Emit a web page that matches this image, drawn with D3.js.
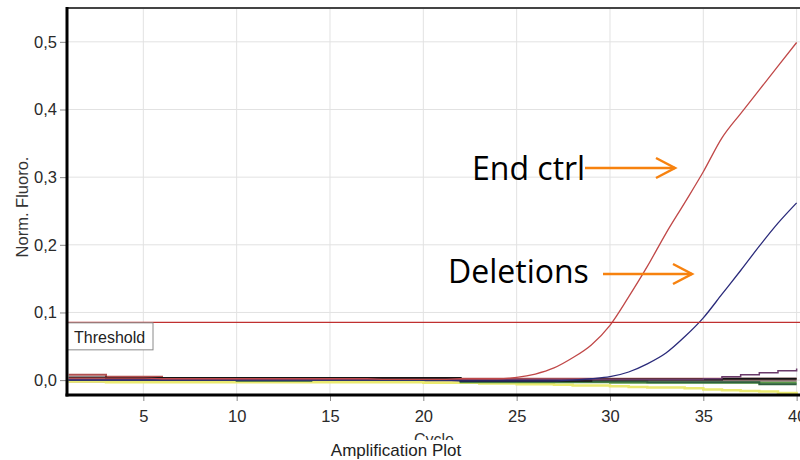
<!DOCTYPE html>
<html>
<head>
<meta charset="utf-8">
<script src="https://cdn.jsdelivr.net/npm/d3@7"></script>
<style>
html,body{margin:0;padding:0;background:#fff;}
svg{display:block;}
</style>
</head>
<body>
<svg id="chart" width="800" height="460"></svg>
<script>
// ---- data ----
const cycles = [1,2,3,4,5,6,7,8,9,10,11,12,13,14,15,16,17,18,19,20,21,22,23,24,25,26,27,28,29,30,31,32,33,34,35,36,37,38,39,40];
const endCtrl = [0.003,0.003,0.003,0.003,0.003,0.002,0.002,0.002,0.002,0.002,0.002,0.002,0.002,0.002,0.002,0.002,0.002,0.001,0.001,0.001,0.001,0.002,0.002,0.002,0.004,0.009,0.018,0.033,0.052,0.081,0.123,0.168,0.217,0.262,0.308,0.358,0.394,0.429,0.464,0.499];
const deletions = [0.000,0.000,0.000,0.000,0.000,0.000,0.000,0.000,0.000,0.000,0.000,0.000,0.000,0.000,0.000,0.000,0.000,0.000,0.000,0.000,0.000,-0.001,-0.001,-0.001,-0.001,-0.001,-0.001,0.000,0.002,0.005,0.012,0.024,0.040,0.064,0.092,0.127,0.162,0.198,0.232,0.262];
const purple = [0.001,0.001,0.001,0.001,0.001,0.001,0.001,0.001,0.001,0.001,0.001,0.001,0.001,0.001,0.001,0.001,0.001,0.001,0.001,0.001,0.001,0.001,0.001,0.001,0.001,0.001,0.001,0.001,0.001,0.001,0.001,0.001,0.001,0.001,0.002,0.005,0.008,0.011,0.014,0.017];
const blackLine = [0.004,0.004,0.003,0.003,0.003,0.003,0.003,0.003,0.003,0.003,0.003,0.003,0.003,0.003,0.003,0.003,0.003,0.003,0.003,0.003,0.003,-0.001,-0.001,-0.001,-0.001,-0.001,-0.001,-0.001,0.001,0.001,0.001,0.001,0.001,0.001,0.001,0.002,0.002,0.002,0.002,0.002];
const darkGreen = [0.000,0.000,0.000,0.000,0.000,0.000,0.000,0.000,0.000,-0.001,-0.001,-0.001,-0.001,0.001,0.001,0.001,0.001,0.001,0.001,0.000,0.000,-0.002,-0.002,-0.002,-0.002,-0.002,-0.002,-0.002,-0.002,-0.002,-0.002,-0.003,-0.003,-0.003,-0.003,-0.003,-0.003,-0.006,-0.006,-0.006];
const greenLine = [0.000,0.000,0.000,0.000,0.000,0.000,0.000,0.000,0.000,0.000,0.000,0.000,0.002,0.002,0.000,0.000,0.000,0.000,0.000,0.000,0.000,-0.003,-0.003,-0.003,-0.003,-0.003,-0.003,-0.003,-0.003,-0.004,-0.004,-0.004,-0.004,-0.004,-0.004,-0.004,-0.004,-0.004,-0.004,-0.004];
const yellowLine = [-0.002,-0.002,-0.003,-0.003,-0.003,-0.003,-0.003,-0.003,-0.003,-0.003,-0.003,-0.003,-0.003,-0.003,-0.003,-0.003,-0.003,-0.003,-0.003,-0.004,-0.004,-0.004,-0.005,-0.005,-0.006,-0.006,-0.007,-0.008,-0.008,-0.009,-0.010,-0.011,-0.011,-0.012,-0.014,-0.015,-0.016,-0.017,-0.019,-0.021];
const pinkLine = [0.008,0.008,0.005,0.005,0.005,0.002,0.002,0.002,0.002,0.002,0.002,0.002,0.002,0.002,0.002,0.002,0.002,0.002,0.002,0.002,0.002,0.002,0.002,0.002,0.002,0.002,0.002,0.002,0.002,0.002,0.002,0.002,0.002,0.002,0.002,0.002,0.002,0.002,0.002,0.002];
const grayLine = [-0.002,-0.002,-0.002,-0.001,-0.001,-0.001,-0.001,-0.001,-0.001,-0.001,-0.001,-0.001,-0.001,-0.001,-0.001,-0.001,-0.001,-0.001,-0.001,-0.001,-0.001,-0.001,-0.001,-0.001,-0.001,-0.001,-0.001,-0.001,-0.001,-0.001,-0.001,-0.001,-0.001,-0.001,-0.001,-0.001,-0.001,-0.001,-0.001,-0.001];
const thresholdValue = 0.0854;
const xTickValues = [5,10,15,20,25,30,35,40];
const yTickValues = [0,0.1,0.2,0.3,0.4,0.5];
const xDomain = [0.91, 40.18];
const yDomain = [-0.022, 0.55];
const annotations = [
  {label:"End ctrl", x:472, y:180, ax1:585, ax2:675, ay:168},
  {label:"Deletions", x:448, y:283, ax1:603, ax2:692, ay:274}
];

// ---- layout ----
const svg = d3.select("#chart");
const L = 67, R = 800, T = 8, B = 395;
const x = d3.scaleLinear().domain(xDomain).range([L, R]);
const y = d3.scaleLinear().domain(yDomain).range([B, T]);
const fmt = v => d3.format(".1f")(v).replace(".", ",");
const sans = "'Liberation Sans', Arial, sans-serif";

svg.append("defs").append("clipPath").attr("id","plotclip")
  .append("rect").attr("x",L).attr("y",T).attr("width",R-L).attr("height",B-T);
svg.select("defs").append("clipPath").attr("id","cycleclip")
  .append("rect").attr("x",0).attr("y",0).attr("width",800).attr("height",440);

// grid
const grid = svg.append("g");
grid.selectAll("line.v").data(xTickValues).join("line")
  .attr("x1",d=>x(d)).attr("x2",d=>x(d)).attr("y1",T).attr("y2",B)
  .attr("stroke","#e2e2e2").attr("stroke-width",1);
grid.selectAll("line.h").data(yTickValues).join("line")
  .attr("class","h")
  .attr("x1",L).attr("x2",R).attr("y1",d=>y(d)).attr("y2",d=>y(d))
  .attr("stroke","#e2e2e2").attr("stroke-width",1);

// axes
const yAxis = d3.axisLeft(y).tickValues(yTickValues).tickFormat(fmt).tickSize(6).tickPadding(3);
const gy = svg.append("g").attr("transform",`translate(${L-1},0)`).call(yAxis);
gy.select(".domain").remove();
gy.selectAll(".tick line").attr("stroke","#888");
gy.selectAll(".tick text").attr("font-family",sans).attr("font-size",16.5).attr("fill","#2a2a2a");

const xAxis = d3.axisBottom(x).tickValues(xTickValues).tickFormat(d3.format("d")).tickSize(6).tickPadding(9);
const gx = svg.append("g").attr("transform",`translate(0,${B})`).call(xAxis);
gx.select(".domain").remove();
gx.selectAll(".tick line").attr("stroke","#888");
gx.selectAll(".tick text").attr("font-family",sans).attr("font-size",16.5).attr("fill","#2a2a2a");

// series
const plot = svg.append("g").attr("clip-path","url(#plotclip)");
const series = [
  {v:grayLine, c:"#8a7070", w:2, curve:d3.curveStepAfter},
  {v:yellowLine, c:"#eaea70", w:2.5, curve:d3.curveStepAfter},
  {v:greenLine, c:"#5a9a4a", w:2, curve:d3.curveStepAfter},
  {v:darkGreen, c:"#2f5f3f", w:2, curve:d3.curveStepAfter},
  {v:pinkLine, c:"#b05050", w:2, curve:d3.curveStepAfter},
  {v:blackLine, c:"#151515", w:2, curve:d3.curveStepAfter},
  {v:purple, c:"#6a3a6a", w:1.5, curve:d3.curveStepAfter},
  {v:deletions, c:"#2a2a7a", w:1.3, curve:d3.curveMonotoneX},
  {v:endCtrl, c:"#c04848", w:1.3, curve:d3.curveMonotoneX}
];
series.forEach(s => {
  const line = d3.line().x((d,i)=>x(cycles[i])).y(d=>y(d)).curve(s.curve);
  plot.append("path").datum(s.v).attr("d",line)
    .attr("fill","none").attr("stroke",s.c).attr("stroke-width",s.w);
});

// threshold
plot.append("line").attr("x1",L).attr("x2",R).attr("y1",y(thresholdValue)).attr("y2",y(thresholdValue))
  .attr("stroke","#c03030").attr("stroke-width",1.3);
const ty = y(thresholdValue);
svg.append("rect").attr("x",L).attr("y",ty+0.5).attr("width",86).attr("height",27)
  .attr("fill","#fff").attr("stroke","#8a8a8a").attr("stroke-width",1);
svg.append("text").attr("x",L+7).attr("y",ty+21).text("Threshold")
  .attr("font-family",sans).attr("font-size",16).attr("fill","#222");

// frame
svg.append("line").attr("x1",L).attr("x2",R).attr("y1",T).attr("y2",T).attr("stroke","#444").attr("stroke-width",2);
svg.append("line").attr("x1",L).attr("x2",L).attr("y1",T-1).attr("y2",B+1.5).attr("stroke","#000").attr("stroke-width",3);
svg.append("line").attr("x1",L-1.5).attr("x2",R).attr("y1",B).attr("y2",B).attr("stroke","#000").attr("stroke-width",3);

// axis titles
svg.append("text").attr("transform","translate(28,207) rotate(-90)").attr("text-anchor","middle")
  .text("Norm. Fluoro.").attr("font-family",sans).attr("font-size",16.5).attr("fill","#333");
svg.append("text").attr("x",434).attr("y",445).attr("text-anchor","middle").attr("clip-path","url(#cycleclip)")
  .text("Cycle").attr("font-family",sans).attr("font-size",16).attr("fill","#333");
svg.append("text").attr("x",396).attr("y",456).attr("text-anchor","middle")
  .text("Amplification Plot").attr("font-family",sans).attr("font-size",17).attr("fill","#222");

// annotations
const orange = "#f7820f";
annotations.forEach(a => {
  svg.append("text").attr("x",a.x).attr("y",a.y).text(a.label)
    .attr("font-family","'Open Sans', 'Noto Sans', sans-serif").attr("font-size",32).attr("fill","#000");
  svg.append("line").attr("x1",a.ax1).attr("x2",a.ax2).attr("y1",a.ay).attr("y2",a.ay)
    .attr("stroke",orange).attr("stroke-width",2.5);
  svg.append("path").attr("d",`M${a.ax2-19},${a.ay-10} L${a.ax2},${a.ay} L${a.ax2-19},${a.ay+10}`)
    .attr("fill","none").attr("stroke",orange).attr("stroke-width",2.5).attr("stroke-linejoin","miter");
});
</script>
</body>
</html>
